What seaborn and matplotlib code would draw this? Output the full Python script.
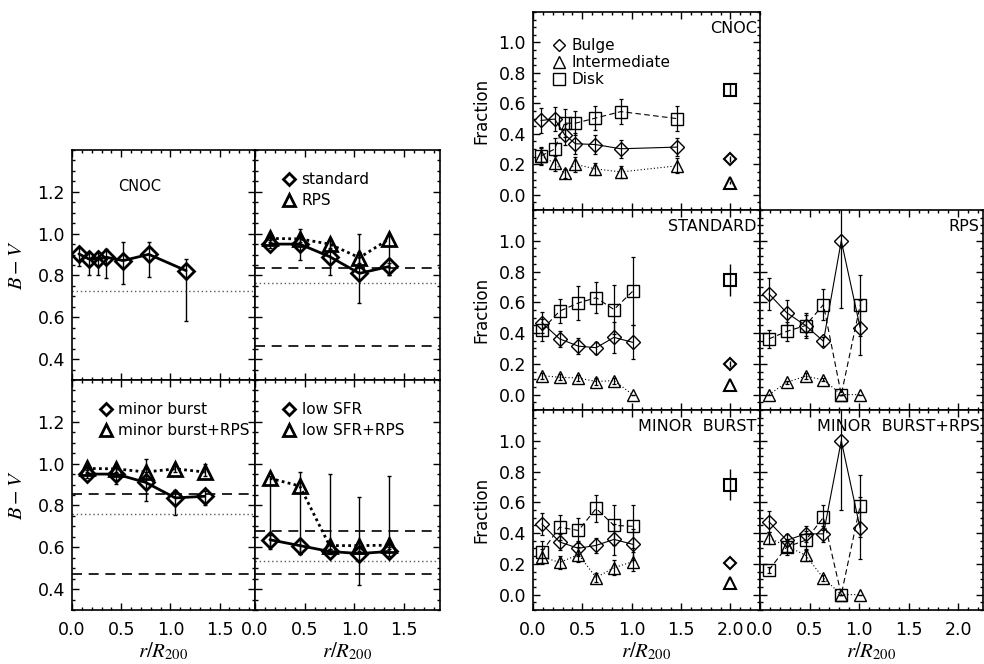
import numpy as np
import matplotlib
matplotlib.use("Agg")
import matplotlib.pyplot as plt
from matplotlib.ticker import MultipleLocator, FixedLocator
from matplotlib.lines import Line2D
import seaborn as sns

#================================#
# Data
#================================#
# left block: B-V colour vs radius
cnoc_r = [0.07, 0.17, 0.26, 0.35, 0.52, 0.78, 1.16]
cnoc_bv = [0.903, 0.879, 0.877, 0.887, 0.871, 0.901, 0.823]
cnoc_lo = [0.845, 0.80, 0.80, 0.79, 0.76, 0.795, 0.58]
cnoc_hi = [0.93, 0.91, 0.91, 0.925, 0.96, 0.96, 0.88]
cnoc_dotted = 0.725

sim_r = [0.15, 0.45, 0.75, 1.05, 1.35]

standard_bv = [0.95, 0.95, 0.89, 0.81, 0.843]
standard_lo = [0.93, 0.875, 0.80, 0.67, 0.80]
standard_hi = [0.97, 1.02, 0.97, 1.00, 0.86]
rps_bv = [0.977, 0.975, 0.95, 0.885, 0.975]
rps_lo = [0.96, 0.96, 0.93, 0.86, 0.80]
rps_hi = [0.99, 0.99, 0.97, 0.91, 0.99]
standard_dashed = [0.838, 0.463]
standard_dotted = 0.762

burst_bv = [0.95, 0.95, 0.91, 0.836, 0.844]
burst_lo = [0.93, 0.905, 0.82, 0.755, 0.80]
burst_hi = [0.97, 0.995, 0.96, 0.875, 0.87]
burst_rps_bv = [0.977, 0.975, 0.96, 0.975, 0.96]
burst_rps_lo = [0.96, 0.96, 0.94, 0.96, 0.94]
burst_rps_hi = [0.99, 0.99, 1.02, 0.99, 1.00]
burst_dashed = [0.856, 0.472]
burst_dotted = 0.761

lowsfr_bv = [0.636, 0.608, 0.58, 0.57, 0.58]
lowsfr_lo = [0.59, 0.57, 0.57, 0.42, 0.56]
lowsfr_hi = [0.66, 0.64, 0.59, 0.62, 0.60]
lowsfr_rps_bv = [0.93, 0.893, 0.608, 0.608, 0.61]
lowsfr_rps_lo = [0.60, 0.57, 0.59, 0.58, 0.59]
lowsfr_rps_hi = [0.94, 0.96, 0.95, 0.84, 0.94]
lowsfr_dashed = [0.68, 0.474]
lowsfr_dotted = 0.535

bv_ticks = [0.4, 0.6, 0.8, 1.0, 1.2]

# right block: morphological fractions vs radius
cnoc_fr_r = [0.08, 0.22, 0.32, 0.43, 0.63, 0.89, 1.46]
cnoc_bulge = [0.488, 0.497, 0.395, 0.335, 0.33, 0.302, 0.313]
cnoc_bulge_err = [0.08, 0.08, 0.07, 0.07, 0.065, 0.06, 0.06]
cnoc_inter = [0.255, 0.207, 0.14, 0.20, 0.17, 0.15, 0.19]
cnoc_inter_err = [0.05, 0.05, 0.03, 0.05, 0.04, 0.04, 0.05]
cnoc_disk = [0.255, 0.30, 0.47, 0.47, 0.503, 0.546, 0.50]
cnoc_disk_err = [0.06, 0.07, 0.09, 0.08, 0.08, 0.08, 0.08]

sim_fr_r = [0.09, 0.27, 0.46, 0.64, 0.82, 1.01]

std_bulge = [0.468, 0.362, 0.315, 0.305, 0.372, 0.34]
std_bulge_err = [0.07, 0.05, 0.05, 0.04, 0.10, 0.11]
std_inter = [0.123, 0.113, 0.108, 0.085, 0.091, 0.0]
std_inter_err = [0.02, 0.02, 0.02, 0.02, 0.02, 0.0]
std_disk = [0.42, 0.543, 0.596, 0.63, 0.553, 0.672]
std_disk_err = [0.07, 0.08, 0.11, 0.10, 0.16, 0.22]

rps_bulge = [0.655, 0.532, 0.449, 0.347, 1.0, 0.436]
rps_bulge_err = [0.105, 0.08, 0.07, 0.03, 0.44, 0.18]
rps_inter = [0.0, 0.08, 0.12, 0.096, 0.0, 0.0]
rps_inter_err = [0.0, 0.01, 0.02, 0.01, 0.0, 0.0]
rps_disk = [0.362, 0.411, 0.449, 0.585, 0.0, 0.58]
rps_disk_err = [0.06, 0.06, 0.08, 0.10, 0.0, 0.2]

mb_bulge = [0.459, 0.342, 0.301, 0.32, 0.359, 0.327]
mb_bulge_err = [0.07, 0.05, 0.05, 0.05, 0.10, 0.10]
mb_inter = [0.246, 0.209, 0.26, 0.111, 0.175, 0.214]
mb_inter_err = [0.05, 0.04, 0.05, 0.03, 0.05, 0.06]
mb_disk = [0.278, 0.438, 0.417, 0.56, 0.45, 0.444]
mb_disk_err = [0.07, 0.08, 0.08, 0.09, 0.13, 0.14]

mbr_bulge = [0.474, 0.353, 0.395, 0.395, 1.0, 0.432]
mbr_bulge_err = [0.07, 0.04, 0.05, 0.05, 0.45, 0.2]
mbr_inter = [0.367, 0.316, 0.256, 0.107, 0.0, 0.0]
mbr_inter_err = [0.04, 0.04, 0.04, 0.02, 0.0, 0.0]
mbr_disk = [0.16, 0.31, 0.353, 0.502, 0.0, 0.577]
mbr_disk_err = [0.02, 0.05, 0.06, 0.08, 0.0, 0.2]

# isolated points at r/R200 = 2 (bulge, intermediate, disk)
field_r = 2.0
cnoc_field = [0.233, 0.08, 0.69]
cnoc_field_err = [0.02, 0.01, 0.04]
std_field = [0.20, 0.064, 0.745]
std_field_err = [0.02, 0.0, 0.105]
mb_field = [0.203, 0.073, 0.714]
mb_field_err = [0.0, 0.0, 0.10]

fr_ticks = [0.0, 0.2, 0.4, 0.6, 0.8, 1.0]

#================================#
# Style
#================================#
sns.set_style("ticks")
plt.rcParams['font.family'] = ['DejaVu Sans']
plt.rcParams['mathtext.fontset'] = 'stix'
plt.rcParams['text.color'] = 'k'
plt.rcParams['axes.labelcolor'] = 'k'

W, H = 984, 664
fig = plt.figure(figsize=(W / 100, H / 100), dpi=100)


def make_ax(x0, x1, y0, y1):
    # pixel box -> figure fraction
    return fig.add_axes([x0 / W, (H - y1) / H, (x1 - x0) / W, (y1 - y0) / H])


def style_ax(ax, yticks, showx, showy):
    ax.xaxis.set_major_locator(MultipleLocator(0.5))
    ax.xaxis.set_minor_locator(MultipleLocator(0.1))
    ax.yaxis.set_major_locator(FixedLocator(yticks))
    ax.yaxis.set_minor_locator(MultipleLocator(0.05))
    ax.tick_params(which='both', direction='in', top=True, right=True,
                   labelsize=12.5, width=1, colors='k')
    ax.tick_params(which='major', length=5)
    ax.tick_params(which='minor', length=2.5)
    ax.tick_params(axis='x', pad=8)
    ax.tick_params(axis='y', pad=5)
    ax.tick_params(labelbottom=showx, labelleft=showy)
    for s in ax.spines.values():
        s.set_linewidth(1.2)
        s.set_color('k')


def bv_series(ax, x, y, lo, hi, marker, ls):
    y = np.array(y)
    yerr = [y - np.array(lo), np.array(hi) - y]
    ax.errorbar(x, y, yerr=yerr, fmt='none', ecolor='k', elinewidth=1,
                capsize=1.5, zorder=2)
    sns.lineplot(x=x, y=y, ax=ax, color='k', linestyle=ls, linewidth=2,
                 marker=marker, markersize=10 if marker == '^' else 8.5,
                 markerfacecolor='none', markeredgecolor='k',
                 markeredgewidth=2, sort=False, errorbar=None, zorder=3)


def refs(ax, dashed, dotted):
    for d in dashed:
        ax.axhline(d, color='k', ls=(0, (6, 4)), lw=1.2)
    ax.axhline(dotted, color='0.35', ls=(0, (1, 2)), lw=1)


def bv_legend(ax, labels):
    h = [Line2D([], [], ls='none', marker='D', ms=6.5, mfc='none', mec='k', mew=2),
         Line2D([], [], ls='none', marker='^', ms=8, mfc='none', mec='k', mew=2)]
    ax.legend(h, labels, loc='upper left', bbox_to_anchor=(0.12, 0.93),
              frameon=False, fontsize=11, handlelength=0.8,
              handletextpad=0.4, labelspacing=0.4, borderaxespad=0)


xlab = '$r/R_{\\mathit{200}}$'
bvlab = '$B\u2212V$'

#================================#
# Left block: B-V
#================================#
bv_xlim = (0, 1.86)
bv_ylim = (0.3, 1.4)

ax = make_ax(72, 255, 150, 380)
bv_series(ax, cnoc_r, cnoc_bv, cnoc_lo, cnoc_hi, 'D', '-')
ax.axhline(cnoc_dotted, color='0.35', ls=(0, (1, 2)), lw=1)
ax.text(0.37, 0.84, 'CNOC', transform=ax.transAxes, ha='center', va='center', fontsize=10.5)
ax.set_xlim(bv_xlim); ax.set_ylim(bv_ylim)
style_ax(ax, bv_ticks, False, True)
ax.set_ylabel(bvlab, fontsize=15, labelpad=8)

ax = make_ax(255, 440, 150, 380)
refs(ax, standard_dashed, standard_dotted)
bv_series(ax, sim_r, rps_bv, rps_lo, rps_hi, '^', (0, (1, 1.2)))
bv_series(ax, sim_r, standard_bv, standard_lo, standard_hi, 'D', '-')
bv_legend(ax, ['standard', 'RPS'])
ax.set_xlim(bv_xlim); ax.set_ylim(bv_ylim)
style_ax(ax, bv_ticks, False, False)

ax = make_ax(72, 255, 380, 610)
refs(ax, burst_dashed, burst_dotted)
bv_series(ax, sim_r, burst_rps_bv, burst_rps_lo, burst_rps_hi, '^', (0, (1, 1.2)))
bv_series(ax, sim_r, burst_bv, burst_lo, burst_hi, 'D', '-')
bv_legend(ax, ['minor burst', 'minor burst+RPS'])
ax.set_xlim(bv_xlim); ax.set_ylim(bv_ylim)
style_ax(ax, bv_ticks, True, True)
ax.set_ylabel(bvlab, fontsize=15, labelpad=8)
ax.set_xlabel(xlab, fontsize=15, labelpad=1)

ax = make_ax(255, 440, 380, 610)
refs(ax, lowsfr_dashed, lowsfr_dotted)
bv_series(ax, sim_r, lowsfr_rps_bv, lowsfr_rps_lo, lowsfr_rps_hi, '^', (0, (1, 1.2)))
bv_series(ax, sim_r, lowsfr_bv, lowsfr_lo, lowsfr_hi, 'D', '-')
bv_legend(ax, ['low SFR', 'low SFR+RPS'])
ax.set_xlim(bv_xlim); ax.set_ylim(bv_ylim)
style_ax(ax, bv_ticks, True, False)
ax.set_xlabel(xlab, fontsize=15, labelpad=1)

#================================#
# Right block: fractions
#================================#
fr_ylim = (-0.1, 1.2)
kinds = [('D', '-', 7.5), ('^', (0, (1, 2)), 9), ('s', (0, (5, 3)), 9)]


def frac_panel(ax, r, series, field, label):
    for (vals, errs), (mk, ls, ms) in zip(series, kinds):
        ax.errorbar(r, vals, yerr=errs, fmt='none', ecolor='k', elinewidth=0.9,
                    capsize=1.5, capthick=0.9, zorder=2)
        sns.lineplot(x=r, y=vals, ax=ax, color='k', linestyle=ls, linewidth=0.8,
                     marker=mk, markersize=ms, markerfacecolor='none',
                     markeredgecolor='k', markeredgewidth=1, sort=False,
                     errorbar=None, zorder=3)
    if field is not None:
        vals, errs = field
        for v, e, (mk, ls, ms) in zip(vals, errs, kinds):
            ax.errorbar([field_r], [v], yerr=[e], fmt=mk, ms=ms - 1, mfc='none',
                        mec='k', mew=1.5, ecolor='k', elinewidth=1, capsize=0)
    ax.text(0.985, 0.955, label, transform=ax.transAxes, ha='right', va='top', fontsize=11.5)
    ax.set_ylim(fr_ylim)


ax = make_ax(533, 760, 12, 210)
frac_panel(ax, cnoc_fr_r,
           [(cnoc_bulge, cnoc_bulge_err), (cnoc_inter, cnoc_inter_err), (cnoc_disk, cnoc_disk_err)],
           (cnoc_field, cnoc_field_err), 'CNOC')
h = [Line2D([], [], ls='none', marker=mk, ms=ms - 1, mfc='none', mec='k', mew=1)
     for mk, ls, ms in kinds]
ax.legend(h, ['Bulge', 'Intermediate', 'Disk'], loc='upper left',
          bbox_to_anchor=(0.06, 0.9), frameon=False, fontsize=11, handlelength=0.8,
          handletextpad=0.4, labelspacing=0.15, borderaxespad=0)
ax.set_xlim(0, 2.3)
style_ax(ax, fr_ticks, False, True)
ax.set_ylabel('Fraction', fontsize=12, labelpad=6)

ax = make_ax(533, 760, 210, 410)
frac_panel(ax, sim_fr_r,
           [(std_bulge, std_bulge_err), (std_inter, std_inter_err), (std_disk, std_disk_err)],
           (std_field, std_field_err), 'STANDARD')
ax.set_xlim(0, 2.3)
style_ax(ax, fr_ticks, False, True)
ax.set_ylabel('Fraction', fontsize=12, labelpad=6)

ax = make_ax(760, 983, 210, 410)
frac_panel(ax, sim_fr_r,
           [(rps_bulge, rps_bulge_err), (rps_inter, rps_inter_err), (rps_disk, rps_disk_err)],
           None, 'RPS')
ax.set_xlim(0, 2.25)
style_ax(ax, fr_ticks, False, False)

ax = make_ax(533, 760, 410, 610)
frac_panel(ax, sim_fr_r,
           [(mb_bulge, mb_bulge_err), (mb_inter, mb_inter_err), (mb_disk, mb_disk_err)],
           (mb_field, mb_field_err), 'MINOR  BURST')
ax.set_xlim(0, 2.3)
style_ax(ax, fr_ticks, True, True)
ax.set_ylabel('Fraction', fontsize=12, labelpad=6)
ax.set_xlabel(xlab, fontsize=15, labelpad=1)

ax = make_ax(760, 983, 410, 610)
frac_panel(ax, sim_fr_r,
           [(mbr_bulge, mbr_bulge_err), (mbr_inter, mbr_inter_err), (mbr_disk, mbr_disk_err)],
           None, 'MINOR  BURST+RPS')
ax.set_xlim(0, 2.25)
style_ax(ax, fr_ticks, True, False)
ax.set_xlabel(xlab, fontsize=15, labelpad=1)

fig.savefig('out.png', dpi=100)
